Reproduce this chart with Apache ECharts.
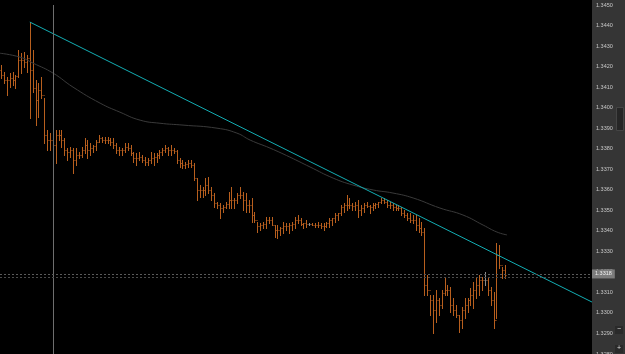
<!DOCTYPE html>
<html>
<head>
<meta charset="utf-8">
<script src="https://cdn.jsdelivr.net/npm/echarts/dist/echarts.min.js"></script>
<style>
html, body { margin: 0; padding: 0; background: #000; }
#chart { width: 625px; height: 354px; }
</style>
</head>
<body>
<div id="chart"></div>
<script>
var myChart = echarts.init(document.getElementById('chart'));

// bar highs / lows / closes (oldest first)
var highs = [
    1.34208, 1.34173, 1.34149, 1.34168, 1.34173, 1.34159, 1.34280, 1.34265, 1.34270, 1.34256,
    1.34417, 1.34280, 1.34134, 1.34119, 1.34149, 1.34047, 1.33891, 1.33876, 1.33891, 1.33891,
    1.33891, 1.33891, 1.33852, 1.33803, 1.33808, 1.33803, 1.33803, 1.33783, 1.33808, 1.33852,
    1.33842, 1.33827, 1.33818, 1.33842, 1.33866, 1.33857, 1.33857, 1.33857, 1.33852, 1.33852,
    1.33827, 1.33808, 1.33803, 1.33827, 1.33827, 1.33818, 1.33783, 1.33778, 1.33783, 1.33769,
    1.33759, 1.33754, 1.33783, 1.33778, 1.33778, 1.33793, 1.33803, 1.33818, 1.33808, 1.33818,
    1.33803, 1.33793, 1.33754, 1.33745, 1.33735, 1.33745, 1.33745, 1.33730, 1.33657, 1.33623,
    1.33613, 1.33657, 1.33662, 1.33613, 1.33584, 1.33540, 1.33535, 1.33526, 1.33540, 1.33589,
    1.33613, 1.33560, 1.33584, 1.33613, 1.33589, 1.33584, 1.33550, 1.33560, 1.33491, 1.33442,
    1.33437, 1.33442, 1.33467, 1.33467, 1.33467, 1.33428, 1.33428, 1.33418, 1.33442, 1.33437,
    1.33437, 1.33442, 1.33467, 1.33477, 1.33462, 1.33437, 1.33452, 1.33437, 1.33437, 1.33437,
    1.33442, 1.33437, 1.33437, 1.33442, 1.33462, 1.33462, 1.33486, 1.33486, 1.33526, 1.33535,
    1.33574, 1.33560, 1.33535, 1.33540, 1.33550, 1.33526, 1.33535, 1.33540, 1.33526, 1.33535,
    1.33535, 1.33540, 1.33560, 1.33560, 1.33550, 1.33540, 1.33535, 1.33526, 1.33526, 1.33516,
    1.33501, 1.33486, 1.33486, 1.33477, 1.33477, 1.33462, 1.33442, 1.33413, 1.33184, 1.33087,
    1.33087, 1.33111, 1.33072, 1.33111, 1.33170, 1.33136, 1.33126, 1.33072, 1.33038, 1.32990,
    1.33029, 1.33072, 1.33072, 1.33121, 1.33150, 1.33170, 1.33184, 1.33174, 1.33199, 1.33174,
    1.33126, 1.33101, 1.33340, 1.33331, 1.33224, 1.33233
];
var lows = [
    1.34144, 1.34119, 1.34062, 1.34100, 1.34110, 1.34095, 1.34149, 1.34168, 1.34198, 1.34173,
    1.33949, 1.34076, 1.33915, 1.33954, 1.34047, 1.33827, 1.33793, 1.33793, 1.33759, 1.33730,
    1.33842, 1.33808, 1.33769, 1.33745, 1.33759, 1.33681, 1.33721, 1.33754, 1.33759, 1.33778,
    1.33754, 1.33769, 1.33783, 1.33793, 1.33832, 1.33832, 1.33827, 1.33827, 1.33818, 1.33803,
    1.33778, 1.33769, 1.33769, 1.33783, 1.33793, 1.33769, 1.33735, 1.33721, 1.33745, 1.33735,
    1.33721, 1.33721, 1.33730, 1.33721, 1.33735, 1.33754, 1.33769, 1.33783, 1.33769, 1.33769,
    1.33778, 1.33730, 1.33711, 1.33706, 1.33706, 1.33711, 1.33711, 1.33647, 1.33550, 1.33565,
    1.33565, 1.33574, 1.33584, 1.33550, 1.33516, 1.33511, 1.33462, 1.33491, 1.33511, 1.33511,
    1.33511, 1.33511, 1.33535, 1.33560, 1.33501, 1.33491, 1.33491, 1.33442, 1.33442, 1.33394,
    1.33404, 1.33413, 1.33413, 1.33437, 1.33428, 1.33370, 1.33365, 1.33380, 1.33389, 1.33404,
    1.33389, 1.33404, 1.33413, 1.33437, 1.33428, 1.33413, 1.33418, 1.33428, 1.33428, 1.33418,
    1.33418, 1.33413, 1.33404, 1.33418, 1.33418, 1.33428, 1.33442, 1.33452, 1.33477, 1.33491,
    1.33501, 1.33511, 1.33501, 1.33501, 1.33467, 1.33477, 1.33491, 1.33516, 1.33486, 1.33501,
    1.33511, 1.33516, 1.33535, 1.33535, 1.33516, 1.33511, 1.33501, 1.33501, 1.33501, 1.33477,
    1.33467, 1.33452, 1.33442, 1.33437, 1.33404, 1.33394, 1.33380, 1.33087, 1.33087, 1.32990,
    1.32902, 1.32955, 1.32990, 1.33024, 1.33087, 1.33087, 1.33004, 1.32990, 1.32980, 1.32907,
    1.32926, 1.32975, 1.33004, 1.33038, 1.33024, 1.33072, 1.33087, 1.33111, 1.33136, 1.33087,
    1.33038, 1.32926, 1.32975, 1.33219, 1.33170, 1.33170
];
var closes = [
    1.34159, 1.34134, 1.34134, 1.34144, 1.34134, 1.34154, 1.34232, 1.34232, 1.34222, 1.34241,
    1.34183, 1.34095, 1.34037, 1.34086, 1.34062, 1.33866, 1.33842, 1.33842, 1.33818, 1.33866,
    1.33866, 1.33842, 1.33793, 1.33783, 1.33793, 1.33745, 1.33769, 1.33769, 1.33793, 1.33818,
    1.33793, 1.33803, 1.33813, 1.33832, 1.33852, 1.33842, 1.33842, 1.33842, 1.33832, 1.33818,
    1.33793, 1.33793, 1.33793, 1.33808, 1.33803, 1.33778, 1.33754, 1.33754, 1.33759, 1.33745,
    1.33735, 1.33745, 1.33754, 1.33759, 1.33769, 1.33783, 1.33793, 1.33803, 1.33793, 1.33793,
    1.33788, 1.33745, 1.33730, 1.33721, 1.33725, 1.33730, 1.33721, 1.33657, 1.33599, 1.33599,
    1.33599, 1.33623, 1.33599, 1.33574, 1.33535, 1.33526, 1.33511, 1.33516, 1.33531, 1.33550,
    1.33550, 1.33550, 1.33574, 1.33574, 1.33550, 1.33526, 1.33526, 1.33477, 1.33452, 1.33423,
    1.33428, 1.33433, 1.33452, 1.33452, 1.33428, 1.33404, 1.33404, 1.33413, 1.33423, 1.33423,
    1.33428, 1.33433, 1.33452, 1.33452, 1.33433, 1.33437, 1.33433, 1.33433, 1.33428, 1.33428,
    1.33428, 1.33423, 1.33423, 1.33437, 1.33452, 1.33462, 1.33477, 1.33486, 1.33516, 1.33526,
    1.33526, 1.33526, 1.33521, 1.33526, 1.33501, 1.33511, 1.33526, 1.33521, 1.33516, 1.33526,
    1.33531, 1.33540, 1.33550, 1.33540, 1.33526, 1.33526, 1.33516, 1.33511, 1.33511, 1.33486,
    1.33477, 1.33462, 1.33452, 1.33452, 1.33428, 1.33413, 1.33394, 1.33136, 1.33111, 1.33063,
    1.33014, 1.33063, 1.33038, 1.33096, 1.33111, 1.33111, 1.33038, 1.33014, 1.32990, 1.32965,
    1.33014, 1.33038, 1.33063, 1.33087, 1.33111, 1.33136, 1.33160, 1.33160, 1.33160, 1.33111,
    1.33063, 1.32965, 1.33282, 1.33233, 1.33209, 1.33184
];
var firstOpen = 1.34183;
var grayBars = [107, 168];   // bars drawn grey (open == close)

// slow moving average (bar position, price)
var maIndex = [-0.35, 6.6, 11.1, 18.1, 25, 34.4, 41.3, 48.3, 55.2, 63.2, 75, 81.9, 86.5,
    93.4, 100.3, 107.3, 115.3, 122.2, 129.2, 136.1, 143.1, 152.4, 160.4, 167.4, 172.2, 175.7];
var maValues = [1.34265, 1.34246, 1.34217, 1.34168, 1.34100, 1.34022, 1.33978, 1.33939, 1.33924,
    1.33915, 1.33900, 1.33876, 1.33842, 1.33803, 1.33759, 1.33711, 1.33657, 1.33623, 1.33599,
    1.33584, 1.33560, 1.33511, 1.33477, 1.33428, 1.33394, 1.33380];

// trend line drawn from the spike high
var trendIndex = [10, 205.2];
var trendValues = [1.34417, 1.33053];

var crossBar = 18;
var bidPrice = 1.33190;
var askPrice = 1.33175;
var bidLabel = '1.3318';

var ohlc = [];
for (var i = 0; i < closes.length; i++) {
    var o = i === 0 ? firstOpen : closes[i - 1];
    ohlc.push([i, o, closes[i], lows[i], highs[i]]);
}
var maData = maIndex.map(function (x, k) { return [x, maValues[k]]; });
var trendData = trendIndex.map(function (x, k) { return [x, trendValues[k]]; });

function renderBar(params, api) {
    var idx = api.value(0);
    var hi = api.coord([idx, api.value(4)]);
    var lo = api.coord([idx, api.value(3)]);
    var op = api.coord([idx, api.value(1)]);
    var cl = api.coord([idx, api.value(2)]);
    var x = Math.round(hi[0]) + 0.5;
    var color = grayBars.indexOf(params.dataIndex) >= 0 ? '#8c8c8c' : '#b85f1e';
    var yo = Math.round(op[1]) + 0.5, yc = Math.round(cl[1]) + 0.5;
    return {
        type: 'group',
        children: [
            {type: 'line', shape: {x1: x, y1: Math.round(hi[1]), x2: x, y2: Math.round(lo[1]) + 1}, style: {stroke: color, lineWidth: 1}},
            {type: 'line', shape: {x1: x - 1, y1: yo, x2: x, y2: yo}, style: {stroke: color, lineWidth: 1}},
            {type: 'line', shape: {x1: x, y1: yc, x2: x + 1, y2: yc}, style: {stroke: color, lineWidth: 1}}
        ]
    };
}

option = {
    backgroundColor: '#353535',
    animation: false,
    grid: {
        show: true,
        left: 0,
        right: 33,
        top: 5,
        bottom: 0,
        outerBoundsMode: 'none',
        containLabel: false,
        backgroundColor: '#000',
        borderWidth: 0
    },
    xAxis: {
        type: 'value',
        min: -0.35,
        max: 205.2,
        show: false
    },
    yAxis: {
        type: 'value',
        position: 'right',
        min: 1.3280,
        max: 1.3450,
        interval: 0.001,
        axisLine: {show: false},
        axisTick: {show: false},
        splitLine: {show: false},
        axisLabel: {
            color: '#c8c8c8',
            fontSize: 5.5,
            fontFamily: 'Arial',
            margin: 4,
            formatter: function (v) { return v.toFixed(4); }
        }
    },
    graphic: [
        {type: 'rect', left: 0, top: 0, shape: {width: 592, height: 5}, style: {fill: '#000'}},
        {type: 'rect', left: 616, top: 107, shape: {width: 7, height: 23}, style: {fill: '#262626', stroke: '#444', lineWidth: 1}},
        {type: 'rect', left: 615, top: 326, shape: {width: 8, height: 8}, style: {fill: '#2a2a2a'}},
        {type: 'text', left: 617, top: 326, style: {text: '−', fill: '#ddd', font: '7px sans-serif'}},
        {type: 'rect', left: 615, top: 345, shape: {width: 8, height: 8}, style: {fill: '#2a2a2a'}},
        {type: 'text', left: 617, top: 345, style: {text: '+', fill: '#ddd', font: '7px sans-serif'}}
    ],
    series: [
        {
            name: 'MA',
            type: 'line',
            data: maData,
            smooth: true,
            symbol: 'none',
            lineStyle: {color: '#3a3a3a', width: 1},
            markLine: {
                silent: true,
                symbol: 'none',
                precision: 5,
                data: [
                    {xAxis: crossBar, lineStyle: {color: '#6e6e6e', type: 'solid', width: 1}, label: {show: false}},
                    {yAxis: askPrice, lineStyle: {color: '#4a4a4a', type: [2, 2], width: 1}, label: {show: false}},
                    {
                        yAxis: bidPrice,
                        lineStyle: {color: '#5a5a5a', type: [2, 2], width: 1},
                        label: {
                            show: true,
                            position: 'end',
                            distance: 0,
                            formatter: bidLabel,
                            color: '#f0f0f0',
                            fontSize: 5.5,
                            fontFamily: 'Arial',
                            backgroundColor: '#7c7c7c',
                            padding: [2, 3, 1, 3]
                        }
                    }
                ]
            }
        },
        {
            name: 'bars',
            type: 'custom',
            renderItem: renderBar,
            data: ohlc,
            z: 3
        },
        {
            name: 'trend',
            type: 'line',
            data: trendData,
            symbol: 'none',
            lineStyle: {color: '#13aeb4', width: 1},
            z: 4
        }
    ]
};
myChart.setOption(option);
</script>
</body>
</html>
